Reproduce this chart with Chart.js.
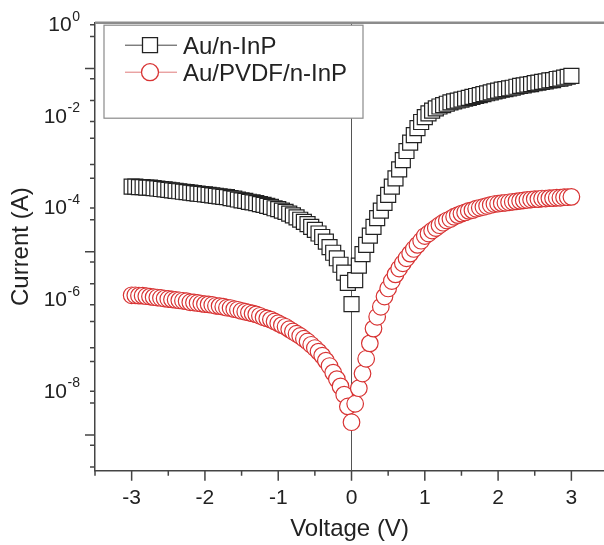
<!DOCTYPE html>
<html>
<head>
<meta charset="utf-8">
<script src="https://cdn.jsdelivr.net/npm/chart.js@4.4.1/dist/chart.umd.min.js"></script>
<style>
  body { margin: 0; background: #fff; }
</style>
</head>
<body>
<canvas id="iv" width="604" height="545"></canvas>
<script>
// bias sweep (V)
const voltage = [-3, -2.95, -2.9, -2.85, -2.8, -2.75, -2.7, -2.65, -2.6, -2.55,
  -2.5, -2.45, -2.4, -2.35, -2.3, -2.25, -2.2, -2.15, -2.1, -2.05,
  -2, -1.95, -1.9, -1.85, -1.8, -1.75, -1.7, -1.65, -1.6, -1.55,
  -1.5, -1.45, -1.4, -1.35, -1.3, -1.25, -1.2, -1.15, -1.1, -1.05,
  -1, -0.95, -0.9, -0.85, -0.8, -0.75, -0.7, -0.65, -0.6, -0.55,
  -0.5, -0.45, -0.4, -0.35, -0.3, -0.25, -0.2, -0.15, -0.1, -0.05,
  0,
  0.05, 0.1, 0.15, 0.2, 0.25, 0.3, 0.35, 0.4, 0.45, 0.5,
  0.55, 0.6, 0.65, 0.7, 0.75, 0.8, 0.85, 0.9, 0.95, 1,
  1.05, 1.1, 1.15, 1.2, 1.25, 1.3, 1.35, 1.4, 1.45, 1.5,
  1.55, 1.6, 1.65, 1.7, 1.75, 1.8, 1.85, 1.9, 1.95, 2,
  2.05, 2.1, 2.15, 2.2, 2.25, 2.3, 2.35, 2.4, 2.45, 2.5,
  2.55, 2.6, 2.65, 2.7, 2.75, 2.8, 2.85, 2.9, 2.95, 3];

// Au/n-InP current (A)
const currentBare = [2.63e-4, 2.63e-4, 2.57e-4, 2.57e-4, 2.51e-4, 2.51e-4, 2.45e-4, 2.40e-4, 2.34e-4, 2.29e-4,
  2.24e-4, 2.19e-4, 2.14e-4, 2.09e-4, 2.04e-4, 2.00e-4, 1.95e-4, 1.91e-4, 1.86e-4, 1.82e-4,
  1.78e-4, 1.74e-4, 1.70e-4, 1.66e-4, 1.62e-4, 1.58e-4, 1.55e-4, 1.48e-4, 1.45e-4, 1.38e-4,
  1.32e-4, 1.29e-4, 1.23e-4, 1.20e-4, 1.15e-4, 1.10e-4, 1.05e-4, 1.00e-4, 9.5e-5, 8.9e-5,
  8.5e-5, 7.9e-5, 7.4e-5, 6.8e-5, 6.2e-5, 5.6e-5, 5.0e-5, 4.5e-5, 4.0e-5, 3.5e-5,
  3.0e-5, 2.5e-5, 2.1e-5, 1.66e-5, 1.26e-5, 9.5e-6, 7.2e-6, 5.2e-6, 3.5e-6, 2.1e-6,
  7.2e-7,
  2.4e-6, 5.0e-6, 8.9e-6, 1.41e-5, 2.24e-5, 3.5e-5, 5.4e-5, 7.9e-5, 1.17e-4, 1.74e-4,
  2.63e-4, 4.0e-4, 6.3e-4, 1.0e-3, 1.58e-3, 2.4e-3, 3.5e-3, 5.0e-3, 6.8e-3, 8.7e-3,
  1.05e-2, 1.20e-2, 1.35e-2, 1.48e-2, 1.58e-2, 1.70e-2, 1.82e-2, 1.91e-2, 2.0e-2, 2.09e-2,
  2.19e-2, 2.29e-2, 2.40e-2, 2.51e-2, 2.63e-2, 2.75e-2, 2.88e-2, 3.0e-2, 3.16e-2, 3.3e-2,
  3.47e-2, 3.55e-2, 3.7e-2, 3.8e-2, 4.0e-2, 4.17e-2, 4.27e-2, 4.47e-2, 4.57e-2, 4.8e-2,
  4.9e-2, 5.1e-2, 5.25e-2, 5.5e-2, 5.6e-2, 5.9e-2, 6.0e-2, 6.3e-2, 6.6e-2, 6.9e-2];

// Au/PVDF/n-InP current (A)
const currentPvdf = [1.12e-6, 1.12e-6, 1.10e-6, 1.10e-6, 1.07e-6, 1.05e-6, 1.02e-6, 1.0e-6, 9.8e-7, 9.5e-7,
  9.3e-7, 9.1e-7, 8.9e-7, 8.7e-7, 8.5e-7, 8.3e-7, 7.9e-7, 7.8e-7, 7.6e-7, 7.4e-7,
  7.2e-7, 7.1e-7, 6.9e-7, 6.6e-7, 6.5e-7, 6.3e-7, 6.0e-7, 5.9e-7, 5.6e-7, 5.4e-7,
  5.1e-7, 4.9e-7, 4.7e-7, 4.5e-7, 4.3e-7, 4.0e-7, 3.7e-7, 3.5e-7, 3.3e-7, 3.0e-7,
  2.75e-7, 2.5e-7, 2.3e-7, 2.04e-7, 1.82e-7, 1.62e-7, 1.45e-7, 1.26e-7, 1.10e-7, 9.3e-8,
  7.9e-8, 6.6e-8, 5.4e-8, 4.2e-8, 3.2e-8, 2.3e-8, 1.66e-8, 1.15e-8, 7.6e-9, 4.2e-9,
  1.9e-9,
  4.8e-9, 1.05e-8, 2.2e-8, 4.6e-8, 1.0e-7, 2.1e-7, 3.8e-7, 6.3e-7, 1.05e-6, 1.58e-6,
  2.3e-6, 3.2e-6, 4.3e-6, 5.6e-6, 7.2e-6, 9.1e-6, 1.15e-5, 1.41e-5, 1.74e-5, 2.2e-5,
  2.5e-5, 2.9e-5, 3.3e-5, 3.8e-5, 4.3e-5, 4.8e-5, 5.2e-5, 5.8e-5, 6.3e-5, 6.8e-5,
  7.2e-5, 7.8e-5, 8.1e-5, 8.7e-5, 9.1e-5, 9.5e-5, 1.0e-4, 1.05e-4, 1.10e-4, 1.12e-4,
  1.15e-4, 1.17e-4, 1.20e-4, 1.23e-4, 1.26e-4, 1.29e-4, 1.32e-4, 1.35e-4, 1.38e-4, 1.41e-4,
  1.41e-4, 1.45e-4, 1.45e-4, 1.48e-4, 1.48e-4, 1.51e-4, 1.51e-4, 1.55e-4, 1.55e-4, 1.58e-4];

const seriesNames = ["Au/n-InP", "Au/PVDF/n-InP"];
const xTickValues = [-3.5, -3, -2.5, -2, -1.5, -1, -0.5, 0, 0.5, 1, 1.5, 2, 2.5, 3];
const yLabelExponents = [0, -2, -4, -6, -8];

const FONT = "'Liberation Sans', Arial, sans-serif";
const INK = "#222";
const AXIS = "#444";
const RED = "#d83434";

function pts(ys) {
  return voltage.map((v, i) => ({x: v, y: ys[i]}));
}

// frame, tick marks, superscript labels and the boxed legend
const decor = {
  id: "decor",
  beforeDatasetsDraw(chart) {
    const {ctx, chartArea: a, scales: {x}} = chart;
    ctx.save();
    const x0 = x.getPixelForValue(0);
    ctx.strokeStyle = "#555";
    ctx.lineWidth = 1;
    ctx.beginPath(); ctx.moveTo(x0, a.top); ctx.lineTo(x0, a.bottom); ctx.stroke();
    ctx.strokeStyle = "#8c8c8c";
    ctx.lineWidth = 2.5;
    ctx.beginPath(); ctx.moveTo(a.left, a.top); ctx.lineTo(chart.width, a.top); ctx.stroke();
    ctx.restore();
  },
  afterDraw(chart) {
    const {ctx, chartArea: a, scales: {x, y}} = chart;
    ctx.save();
    ctx.strokeStyle = AXIS;
    ctx.lineWidth = 1.5;
    ctx.beginPath();
    x.ticks.forEach(t => {
      const px = x.getPixelForValue(t.value);
      const len = Number.isInteger(t.value) ? 10 : 5;
      ctx.moveTo(px, a.bottom); ctx.lineTo(px, a.bottom + len);
    });
    y.ticks.forEach(t => {
      const py = y.getPixelForValue(t.value);
      const lg = Math.log10(t.value);
      const len = Math.abs(lg - Math.round(lg)) < 1e-6 ? 10 : 5;
      ctx.moveTo(a.left, py); ctx.lineTo(a.left - len, py);
    });
    ctx.stroke();

    // 10^n labels
    ctx.fillStyle = INK;
    ctx.textAlign = "right";
    ctx.textBaseline = "alphabetic";
    const right = a.left - 15;
    yLabelExponents.forEach(e => {
      const py = y.getPixelForValue(Math.pow(10, e));
      const sup = String(e);
      ctx.font = "14px " + FONT;
      const w = ctx.measureText(sup).width;
      ctx.fillText(sup, right, py - 2);
      ctx.font = "21px " + FONT;
      ctx.fillText("10", right - w - 0.5, py + 8.5);
    });

    // legend
    const bx = a.left + 9, by = a.top + 2.5, bw = 259, bh = 93;
    ctx.fillStyle = "#fff";
    ctx.fillRect(bx, by, bw, bh);
    ctx.strokeStyle = "#8a8a8a";
    ctx.lineWidth = 1.2;
    ctx.strokeRect(bx, by, bw, bh);
    const rows = [
      {name: seriesNames[0], line: "#444", edge: "#222", shape: "rect", cy: by + 20},
      {name: seriesNames[1], line: "#e07a7a", edge: RED, shape: "circle", cy: by + 47}
    ];
    rows.forEach(r => {
      const cx = bx + 46;
      ctx.strokeStyle = r.line;
      ctx.lineWidth = 1;
      ctx.beginPath(); ctx.moveTo(bx + 21, r.cy); ctx.lineTo(bx + 73, r.cy); ctx.stroke();
      ctx.fillStyle = "#fff";
      ctx.strokeStyle = r.edge;
      ctx.lineWidth = 1.3;
      ctx.beginPath();
      if (r.shape === "rect") ctx.rect(cx - 7.5, r.cy - 7.5, 15, 15);
      else ctx.arc(cx, r.cy, 8.5, 0, Math.PI * 2);
      ctx.fill(); ctx.stroke();
      ctx.fillStyle = INK;
      ctx.textAlign = "left";
      ctx.font = "24px " + FONT;
      ctx.fillText(r.name, bx + 79, r.cy + 8.5);
    });
    ctx.restore();
  }
};

new Chart(document.getElementById("iv"), {
  type: "line",
  data: {
    datasets: [{
      label: seriesNames[0],
      data: pts(currentBare),
      showLine: false,
      pointStyle: "rect",
      pointRadius: 10.6,
      pointBackgroundColor: "#fff",
      pointBorderColor: "#222",
      pointBorderWidth: 1.2
    }, {
      label: seriesNames[1],
      data: pts(currentPvdf),
      showLine: false,
      pointStyle: "circle",
      pointRadius: 8.3,
      pointBackgroundColor: "#fff",
      pointBorderColor: RED,
      pointBorderWidth: 1.2
    }]
  },
  options: {
    responsive: false,
    animation: false,
    events: [],
    layout: {autoPadding: false, padding: {top: 22.7, right: 0, bottom: 0, left: 0}},
    plugins: {legend: {display: false}, tooltip: {enabled: false}},
    scales: {
      x: {
        type: "linear",
        min: -3.5,
        max: 3.445,
        afterBuildTicks: s => { s.ticks = xTickValues.map(v => ({value: v})); },
        afterFit: s => { s.height = 74.3; },
        grid: {display: false, drawTicks: false},
        border: {display: true, color: AXIS, width: 1.5},
        ticks: {
          autoSkip: false,
          maxRotation: 0,
          padding: 15,
          color: INK,
          font: {family: FONT, size: 21},
          callback: v => Number.isInteger(v) ? String(v) : ""
        },
        title: {
          display: true,
          text: "Voltage (V)",
          color: INK,
          font: {family: FONT, size: 24},
          padding: {top: 0, bottom: 1}
        }
      },
      y: {
        type: "logarithmic",
        min: 1.66e-10,
        max: 1,
        afterBuildTicks: s => {
          const t = [];
          for (let e = -10; e <= 0; e++) {
            for (let m = 1; m <= 9; m++) {
              const v = m * Math.pow(10, e);
              if (v >= s.min && v <= s.max * 1.0001) t.push({value: v});
            }
          }
          s.ticks = t;
        },
        afterFit: s => { s.width = 95; },
        grid: {display: false, drawTicks: false},
        border: {display: true, color: AXIS, width: 1.5},
        ticks: {callback: () => ""},
        title: {
          display: true,
          text: "Current (A)",
          color: INK,
          font: {family: FONT, size: 24},
          padding: {top: 7, bottom: 0}
        }
      }
    }
  },
  plugins: [decor]
});
</script>
</body>
</html>
